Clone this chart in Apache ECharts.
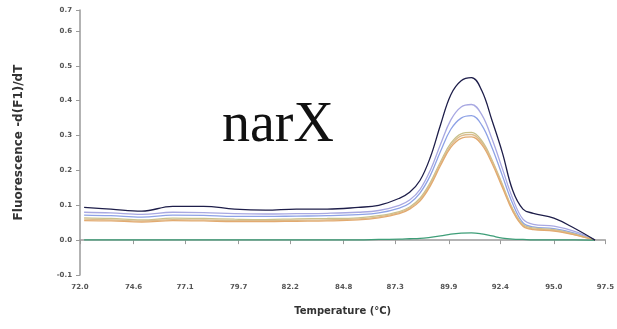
<!DOCTYPE html>
<html>
<head>
<meta charset="utf-8">
<script src="https://cdn.jsdelivr.net/npm/echarts@6/dist/echarts.min.js"></script>
<style>
  html, body { margin: 0; padding: 0; background: #fff; }
  #chart { width: 617px; height: 329px; }
</style>
</head>
<body>
<div id="chart"></div>
<script>
// Melting-curve temperatures (°C) shared by every trace
const temperatures = [72.2, 73.5, 75.0, 76.5, 78.0, 79.5, 81.0, 82.5, 84.0, 85.5, 86.5, 87.5, 88.0, 88.5,
  89.0, 89.5, 90.0, 90.5, 91.0, 91.5, 92.0, 92.5, 93.0, 93.5, 94.0, 95.0, 96.0, 97.0];

// -d(F1)/dT for each sample
const sampleA = [0.094, 0.089, 0.083, 0.097, 0.097, 0.089, 0.086, 0.089, 0.089, 0.094, 0.100, 0.120, 0.137, 0.171,
  0.237, 0.331, 0.417, 0.457, 0.466, 0.429, 0.343, 0.251, 0.143, 0.089, 0.077, 0.063, 0.034, 0.000];
const sampleB = [0.080, 0.078, 0.074, 0.080, 0.079, 0.076, 0.075, 0.076, 0.077, 0.080, 0.085, 0.100, 0.115, 0.145,
  0.200, 0.275, 0.345, 0.382, 0.389, 0.360, 0.290, 0.205, 0.120, 0.060, 0.045, 0.040, 0.025, 0.000];
const sampleC = [0.072, 0.070, 0.066, 0.072, 0.071, 0.068, 0.068, 0.069, 0.070, 0.073, 0.078, 0.092, 0.106, 0.135,
  0.185, 0.255, 0.318, 0.350, 0.357, 0.330, 0.265, 0.185, 0.105, 0.050, 0.038, 0.033, 0.020, 0.000];
const sampleD = [0.064, 0.062, 0.058, 0.063, 0.062, 0.060, 0.059, 0.061, 0.062, 0.064, 0.070, 0.082, 0.095, 0.120,
  0.165, 0.225, 0.278, 0.305, 0.309, 0.285, 0.230, 0.160, 0.090, 0.045, 0.035, 0.030, 0.018, 0.000];
const sampleE = [0.060, 0.058, 0.055, 0.059, 0.058, 0.056, 0.056, 0.057, 0.058, 0.061, 0.067, 0.079, 0.092, 0.116,
  0.160, 0.220, 0.272, 0.299, 0.303, 0.280, 0.226, 0.156, 0.087, 0.042, 0.032, 0.028, 0.016, 0.000];
const sampleF = [0.056, 0.055, 0.052, 0.056, 0.055, 0.053, 0.053, 0.054, 0.055, 0.058, 0.064, 0.076, 0.089, 0.112,
  0.155, 0.214, 0.266, 0.292, 0.296, 0.274, 0.220, 0.151, 0.083, 0.040, 0.030, 0.026, 0.015, 0.000];
const negative = [0.001, 0.001, 0.001, 0.001, 0.001, 0.001, 0.001, 0.001, 0.001, 0.001, 0.002, 0.003, 0.004, 0.005,
  0.008, 0.012, 0.017, 0.020, 0.021, 0.018, 0.012, 0.006, 0.003, 0.002, 0.001, 0.001, 0.001, 0.000];

// Axis tick labels
const xTicks = [72.0, 74.6, 77.1, 79.7, 82.2, 84.8, 87.3, 89.9, 92.4, 95.0, 97.5];
const yMin = -0.1, yMax = 0.66, yStep = 0.1;

const traces = [
  { name: 'A', data: sampleA, color: '#1e1e4a' },
  { name: 'B', data: sampleB, color: '#a8a8e2' },
  { name: 'C', data: sampleC, color: '#8ea2e6' },
  { name: 'D', data: sampleD, color: '#c9c28c' },
  { name: 'E', data: sampleE, color: '#dcbc8e' },
  { name: 'F', data: sampleF, color: '#e2aa70' },
  { name: 'NTC', data: negative, color: '#3e9e78' }
];

const axisLabelStyle = { fontSize: 7, fontWeight: 'bold', color: '#555', fontFamily: 'DejaVu Sans' };
const axisLineStyle = { lineStyle: { color: '#9a9a9a', width: 1.5 } };

const chart = echarts.init(document.getElementById('chart'));
chart.setOption({
  animation: false,
  backgroundColor: '#fff',
  grid: { left: 80, right: 9, top: 10, bottom: 54 },
  xAxis: {
    type: 'value',
    min: 72.0,
    max: 97.5,
    name: 'Temperature (°C)',
    nameLocation: 'middle',
    nameGap: 31,
    nameTextStyle: { fontSize: 10, fontWeight: 'bold', color: '#333', fontFamily: 'DejaVu Sans' },
    axisLine: axisLineStyle,
    axisTick: { customValues: xTicks, length: 4, lineStyle: { color: '#9a9a9a' } },
    axisLabel: Object.assign({ customValues: xTicks, margin: 9, formatter: v => v.toFixed(1) }, axisLabelStyle),
    splitLine: { show: false }
  },
  yAxis: {
    type: 'value',
    min: yMin,
    max: yMax,
    interval: yStep,
    name: 'Fluorescence -d(F1)/dT',
    nameLocation: 'middle',
    nameGap: 55,
    nameTextStyle: { fontSize: 12, fontWeight: 'bold', color: '#333', fontFamily: 'DejaVu Sans' },
    axisLine: Object.assign({ show: true }, axisLineStyle),
    axisTick: { show: true, length: 4, lineStyle: { color: '#9a9a9a' } },
    axisLabel: Object.assign({ margin: 8, formatter: v => v.toFixed(1) }, axisLabelStyle),
    splitLine: { show: false }
  },
  graphic: [{
    type: 'text',
    left: 222,
    top: 98,
    style: { text: 'narX', font: '56px "Liberation Serif"', fill: '#111' }
  }],
  series: traces.map(t => ({
    name: t.name,
    type: 'line',
    data: temperatures.map((x, i) => [x, t.data[i]]),
    smooth: 0.4,
    showSymbol: false,
    lineStyle: { color: t.color, width: 1.3 },
    z: t.name === 'A' ? 5 : 3
  }))
});
</script>
</body>
</html>
